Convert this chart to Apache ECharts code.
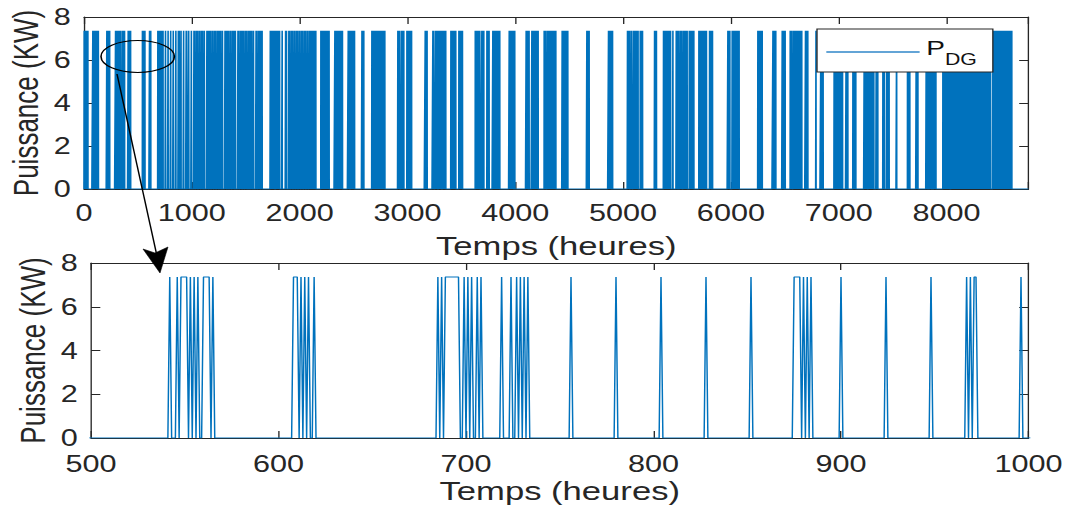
<!DOCTYPE html>
<html><head><meta charset="utf-8">
<script src="https://cdn.jsdelivr.net/npm/echarts@6/dist/echarts.min.js"></script>
<style>
html,body{margin:0;padding:0;background:#fff;overflow:hidden;}
#wrap{width:1065px;height:506px;overflow:hidden;position:relative;}
#c{width:800px;height:506px;transform:scaleX(1.33125);transform-origin:0 0;position:absolute;left:0;top:0;}
</style></head><body><div id="wrap"><div id="c"></div></div>
<script>
// ---------------- data ----------------
const hoursInYear = 8760;
const pdgOnValue = 7.36;                 // kW when the diesel generator runs

// hours (index in the year) where the generator is on for a single hour
const pdgSpikesJan = [
  2, 8, 14, 20, 26, 32, 36,
  82, 88, 95, 101, 108, 114, 120, 127, 133,
  212, 218, 225, 232, 238,
  293, 299, 305, 311, 318, 324, 330, 337,
  354, 360, 366, 372, 376,
  410, 416, 422, 428, 432,
  542, 546, 553, 555, 557, 565,
  612, 614, 616, 619,
  685, 687, 699, 701, 703, 706, 708,
  719, 724, 727, 729, 731, 733,
  756, 780, 804, 828, 852,
  880, 882, 884,
  900, 924, 948, 967, 969, 996
];
const pdgSpikesFebMar = [
  1020, 1028, 1044, 1052, 1068, 1076, 1092, 1100, 1116, 1140, 1150, 1164, 1172,
  1188, 1196, 1212, 1220, 1236, 1245, 1260, 1268, 1284, 1308, 1318, 1332, 1340,
  1356, 1364, 1380, 1390, 1404, 1428, 1436, 1452, 1462, 1476, 1484, 1500, 1508,
  1524, 1535, 1548, 1556, 1572, 1596, 1604, 1620, 1630, 1644, 1652,
  1728, 1736, 1744, 1752, 1760, 1768, 1782, 1790, 1798, 1806, 1814, 1838,
  1870, 1878, 1900, 1908, 1924, 1932, 1948, 1956, 1972, 1980, 1996, 2004, 2020, 2028,
  2044, 2052, 2068, 2076, 2092, 2100,
  2104, 2112, 2120, 2128, 2136, 2144, 2150,
  2197, 2205, 2213, 2221, 2225,
  2234, 2242, 2250, 2258, 2266, 2273
];
const pdgSpikesAprJun = [
  2327, 2335, 2343, 2351, 2359, 2367, 2375, 2383, 2391, 2397,
  2451, 2459, 2473, 2481, 2489, 2497, 2505, 2509,
  2578, 2586, 2595,
  2670, 2678, 2686, 2694, 2700,
  2710, 2718, 2726, 2734, 2742, 2750, 2758, 2766, 2774, 2782, 2790,
  2911, 2919, 2927, 2945, 2953, 2961, 2966,
  2995, 3003, 3011, 3019, 3027, 3035, 3038,
  3165, 3173, 3182,
  3236, 3244, 3262, 3270, 3278, 3292, 3300, 3308, 3315,
  3329, 3337, 3345, 3355,
  3403, 3411, 3419, 3427, 3435, 3443, 3448,
  3477, 3485, 3493, 3501, 3510,
  3629, 3637, 3645, 3653, 3661, 3671,
  3690, 3698, 3708,
  3737, 3745, 3757,
  3792, 3800, 3808, 3816, 3824, 3832, 3840, 3848, 3856,
  3944, 3952, 3960, 3968, 3976, 3984, 3995,
  4101, 4109, 4117, 4128,
  4154, 4162, 4170, 4178, 4186, 4194, 4202, 4212,
  4268, 4276, 4283
];
const pdgSpikesJulSep = [
  4299, 4307, 4315, 4323, 4331, 4339, 4347, 4355, 4363, 4371, 4376,
  4435, 4443, 4451, 4459, 4467, 4475, 4487,
  4664, 4672, 4685,
  4865, 4873, 4881, 4889, 4902,
  5041, 5049, 5057, 5073, 5081, 5099, 5107, 5115, 5123, 5131, 5139,
  5159, 5167, 5180,
  5292, 5300, 5309,
  5375, 5383, 5391, 5399, 5407, 5415, 5423, 5431, 5440,
  5462,
  5493, 5501, 5514,
  5530, 5538, 5546, 5562, 5570, 5578, 5586, 5594, 5614, 5622, 5630, 5638, 5646, 5656,
  5703, 5711, 5719, 5727, 5735, 5743, 5751, 5759, 5767, 5773,
  5802, 5810, 5818, 5829,
  5972, 5980, 5990,
  6012, 6020, 6028, 6036, 6044, 6052, 6060, 6068, 6076,
  6250, 6258, 6266, 6274, 6282, 6290
];
const pdgSpikesOctDec = [
  6390, 6398, 6406, 6416,
  6476, 6484, 6492, 6503,
  6550, 6558, 6565,
  6581, 6589, 6597, 6605, 6613, 6621, 6629, 6637, 6645, 6653, 6657,
  6692, 6700, 6713,
  6789,
  6835, 6843, 6855,
  6958, 6966, 6974, 6982, 6990, 6998, 7006, 7014, 7022, 7030, 7035,
  7069, 7077, 7084,
  7132, 7140, 7148, 7158,
  7237, 7245, 7253, 7263,
  7280, 7288, 7296, 7304, 7312, 7320, 7325,
  7348, 7356, 7362,
  7410, 7418, 7424,
  7447, 7455, 7467,
  7537,
  7638, 7646, 7659,
  7719, 7727, 7734,
  7812, 7820, 7832,
  7849, 7857, 7870,
  7886, 7894, 7901,
  7966, 7974, 7982, 7990, 7998, 8006, 8014, 8022, 8030,
  8041, 8049, 8057, 8065, 8073, 8081, 8089, 8097, 8105, 8113, 8121, 8129, 8137, 8145,
  8153, 8161, 8169, 8177, 8185, 8193, 8201, 8209, 8217, 8225, 8233, 8241, 8249, 8257,
  8265, 8273, 8281, 8289, 8297, 8305, 8313, 8321, 8329, 8337, 8345, 8353, 8361, 8369,
  8377, 8385, 8393, 8401, 8408,
  8430, 8438, 8446, 8454, 8462, 8470, 8478, 8486, 8494, 8502, 8510, 8518, 8526, 8534,
  8542, 8550, 8558, 8566, 8574, 8582, 8590, 8598, 8605
];
// runs of several consecutive "on" hours [first, last]
const pdgOnRuns = [[548,551],[560,563],[608,610],[689,696],[875,878],[971,972]];

const zoomRange = [500, 1000];
const yRange = [0, 8];

// ---------------- build ----------------
function buildSeriesData(){
  const v = new Array(hoursInYear + 1).fill(0);
  [pdgSpikesJan, pdgSpikesFebMar, pdgSpikesAprJun, pdgSpikesJulSep, pdgSpikesOctDec]
    .forEach(list => list.forEach(h => { v[h] = pdgOnValue; }));
  pdgOnRuns.forEach(([a,b]) => { for (let h = a; h <= b; h++) v[h] = pdgOnValue; });
  return v.map((y, h) => [h, y]);
}
const seriesData = buildSeriesData();

const W = 800, S = 1065 / W;
const px = v => v / S;
const INK = '#262626';
const FONT = 'Liberation Sans, Arial, Helvetica, sans-serif';
const TICK_FS = 23, NAME_FS = 26;

function xAxisCfg(grid, min, max, interval, bottom, gap, margin){
  return {
    gridIndex: grid, type: 'value', min, max, interval,
    position: bottom ? 'bottom' : 'top',
    axisLine: {show: true, onZero: false, lineStyle: {color: INK, width: 1}},
    axisTick: {show: true, inside: true, length: 7, lineStyle: {color: INK, width: 1}},
    axisLabel: bottom ? {show: true, color: INK, fontSize: TICK_FS, fontFamily: FONT, margin: margin || 12,
      formatter: v => (v % interval === 0 ? String(v) : '')} : {show: false},
    splitLine: {show: false},
    name: bottom ? 'Temps (heures)' : '',
    nameLocation: 'middle', nameGap: gap || 40, nameMoveOverlap: false,
    nameTextStyle: {color: INK, fontSize: NAME_FS, fontFamily: FONT}
  };
}
function yAxisCfg(grid, left){
  return {
    gridIndex: grid, type: 'value', min: yRange[0], max: yRange[1], interval: 2,
    position: left ? 'left' : 'right',
    axisLine: {show: true, onZero: false, lineStyle: {color: INK, width: 1}},
    axisTick: {show: true, inside: true, length: 7, lineStyle: {color: INK, width: 1}},
    axisLabel: left ? {show: true, color: INK, fontSize: TICK_FS, fontFamily: FONT, margin: 10} : {show: false},
    splitLine: {show: false},
    name: left ? 'Puissance (KW)' : '',
    nameLocation: 'middle', nameGap: 31, nameMoveOverlap: false,
    nameTextStyle: {color: INK, fontSize: NAME_FS, fontFamily: FONT}
  };
}

const chart = echarts.init(document.getElementById('c'), null, {renderer: 'svg', width: W, height: 506});
const option = {
  animation: false,
  backgroundColor: '#fff',
  grid: [
    {left: px(84), right: W - px(1028.5), top: 17, height: 172, outerBoundsMode: 'none', containLabel: false},
    {left: px(91), right: W - px(1028.5), top: 263, height: 175, outerBoundsMode: 'none', containLabel: false}
  ],
  xAxis: [
    xAxisCfg(0, 0, hoursInYear, 1000, true, 44, 12),
    xAxisCfg(0, 0, hoursInYear, 1000, false),
    xAxisCfg(1, zoomRange[0], zoomRange[1], 100, true, 40, 14),
    xAxisCfg(1, zoomRange[0], zoomRange[1], 100, false)
  ],
  yAxis: [yAxisCfg(0, true), yAxisCfg(0, false), yAxisCfg(1, true), yAxisCfg(1, false)],
  legend: {
    show: true, data: ['PDG'], left: px(817), top: 29,
    orient: 'vertical',
    padding: [8, 12, 5, 7],
    backgroundColor: '#fff', borderColor: INK, borderWidth: 1,
    icon: 'rect', itemWidth: px(93.3), itemHeight: 1.3,
    itemStyle: {color: '#2f86c8'},
    formatter: () => '{p|P}{s|DG}',
    textStyle: {
      rich: {
        p: {fontSize: 21, fontFamily: FONT, color: '#111', lineHeight: 21, verticalAlign: 'top'},
        s: {fontSize: 16, fontFamily: FONT, color: '#111', lineHeight: 30, verticalAlign: 'bottom'}
      }
    }
  },
  series: [
    {name: 'PDG', type: 'line', xAxisIndex: 0, yAxisIndex: 0, data: seriesData, symbol: 'none',
     lineStyle: {color: '#0072BD', width: 1.2}, itemStyle: {color: '#0072BD'}, clip: true},
    {name: 'PDG zoom', type: 'line', xAxisIndex: 2, yAxisIndex: 2, data: seriesData, symbol: 'none',
     lineStyle: {color: '#0072BD', width: 1.1}, itemStyle: {color: '#0072BD'}, clip: true}
  ],
  graphic: [
    {type: 'ellipse', z: 100, shape: {cx: px(137.7), cy: 56.5, rx: px(36.7), ry: 16},
     style: {fill: 'none', stroke: '#000', lineWidth: 1.2}},
    {type: 'line', z: 100, shape: {x1: px(117), y1: 74, x2: px(157), y2: 256},
     style: {stroke: '#000', lineWidth: 1.1}},
    {type: 'polygon', z: 100, shape: {points: [[px(160), 273], [px(143), 249], [px(155), 253], [px(168), 247]]},
     style: {fill: '#000', stroke: '#000', lineWidth: 0.5}}
  ]
};
chart.setOption(option);
</script>
</body></html>
